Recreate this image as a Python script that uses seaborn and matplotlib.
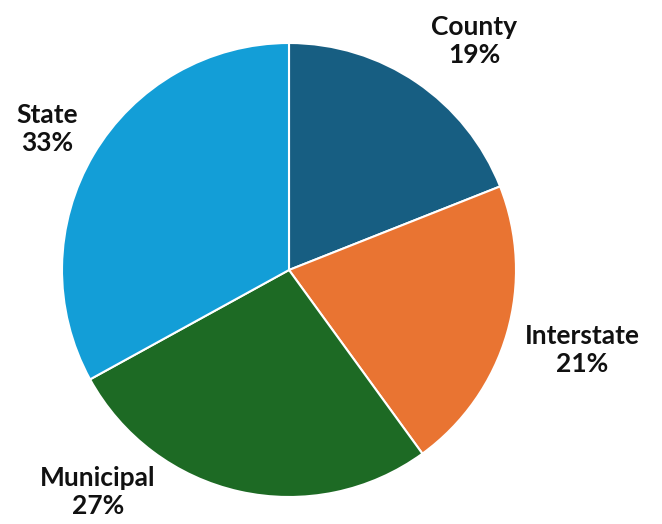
import matplotlib
matplotlib.use("Agg")
import matplotlib.pyplot as plt
import seaborn as sns

# Share of roads by jurisdiction
categories = ["County", "Interstate", "Municipal", "State"]
shares = [19, 21, 27, 33]
colors = ["#175e82", "#e97432", "#1d6a24", "#139ed7"]

sns.set_theme(style="white")
plt.rcParams["font.family"] = ["Lato", "DejaVu Sans"]

W, H = 662, 524
fig = plt.figure(figsize=(W / 100, H / 100), dpi=100)
ax = fig.add_axes([0, 0, 1, 1])

cx, cy, r = 289, H - 270, 227
ax.pie(shares, colors=colors, startangle=90, counterclock=False,
       center=(cx, cy), radius=r, frame=True,
       wedgeprops=dict(edgecolor="white", linewidth=1.5))
ax.set_xlim(0, W)
ax.set_ylim(0, H)
ax.set_aspect("equal")
ax.axis("off")

label_pos = {
    "County": (474, 41),
    "Interstate": (582, 350),
    "Municipal": (98, 492),
    "State": (47, 129),
}
for name, val in zip(categories, shares):
    x, y = label_pos[name]
    ax.text(x, H - y, f"{name}\n{val}%", ha="center", va="center",
            fontsize=19, fontweight="bold", color="#111111", linespacing=1.22)

fig.savefig("out.png", dpi=100, facecolor="white")
